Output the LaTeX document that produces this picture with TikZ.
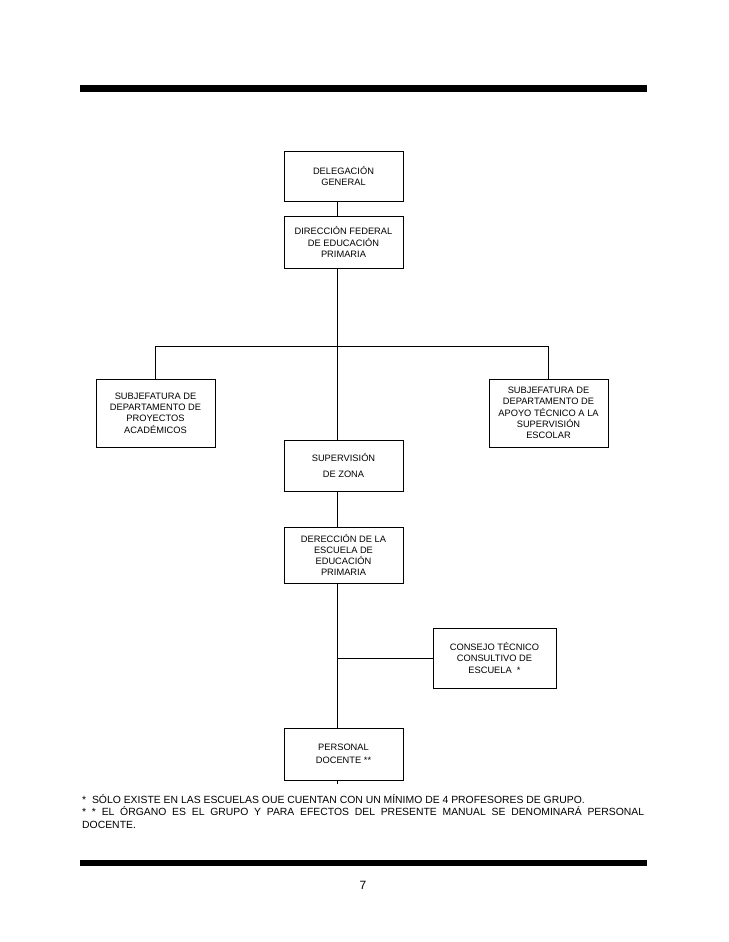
\documentclass[tikz,border=0pt]{standalone}
\usepackage{fontspec}
\setmainfont{Liberation Sans}
\begin{document}
\begin{tikzpicture}[x=1pt,y=-1pt,
  box/.style={draw=black,line width=0.9pt,align=center,inner sep=0pt,font=\fontsize{9.3}{11.3}\selectfont},
  conn/.style={draw=black,line width=0.9pt},
  bar/.style={fill=black}]
\useasboundingbox (0,0) rectangle (728,942);
% bars
\fill[bar] (80,85) rectangle (647,92);
\fill[bar] (80,860) rectangle (647,866);
% boxes
\node[box,minimum width=119pt,minimum height=50pt] (dg) at (343.5,176) {DELEGACIÓN\\GENERAL};
\node[box,minimum width=119pt,minimum height=52pt] (df) at (343.5,242) {DIRECCIÓN FEDERAL\\DE EDUCACIÓN\\PRIMARIA};
\node[box,minimum width=119pt,minimum height=68pt] (sl) at (155.5,413) {SUBJEFATURA DE\\DEPARTAMENTO DE\\PROYECTOS\\ACADÉMICOS};
\node[box,minimum width=119pt,minimum height=68pt] (sr) at (548.5,413) {SUBJEFATURA DE\\DEPARTAMENTO DE\\APOYO TÉCNICO A LA\\SUPERVISIÓN\\ESCOLAR};
\node[box,minimum width=119pt,minimum height=51pt] (sz) at (343.5,465.5) {SUPERVISIÓN\\[4pt]DE ZONA};
\node[box,minimum width=119pt,minimum height=56pt] (de) at (343.5,555) {DERECCIÓN DE LA\\ESCUELA DE\\EDUCACIÓN\\PRIMARIA};
\node[box,minimum width=123pt,minimum height=60pt] (ct) at (494.5,658) {CONSEJO TÉCNICO\\CONSULTIVO DE\\ESCUELA \ *};
\node[box,minimum width=119pt,minimum height=52pt] (pd) at (343.5,754) {PERSONAL\\[2pt]DOCENTE **};
% connectors
\coordinate (ax) at (337,0);
\coordinate (hl) at (155,346);
\coordinate (hr) at (548,346);
\coordinate (tick) at (337,784);
\draw[conn] (dg.south -| ax) -- (df.north -| ax);
\draw[conn] (df.south -| ax) -- (sz.north -| ax);
\draw[conn] (hl) -- (hr);
\draw[conn] (hl) -- (sl.north -| hl);
\draw[conn] (hr) -- (sr.north -| hr);
\draw[conn] (sz.south -| ax) -- (de.north -| ax);
\draw[conn] (de.south -| ax) -- (pd.north -| ax);
\draw[conn] (ct.west -| ax) -- (ct.west);
\draw[conn] (pd.south -| ax) -- (tick);
% footnotes
\node[anchor=north west,inner sep=0pt,text width=562pt,align=justify,font=\fontsize{10.4}{12.5}\selectfont] (fn) at (82,794) {%
*\ \ SÓLO EXISTE EN LAS ESCUELAS OUE CUENTAN CON UN MÍNIMO DE 4 PROFESORES DE GRUPO.\par
* * EL ÓRGANO ES EL GRUPO Y PARA EFECTOS DEL PRESENTE MANUAL SE DENOMINARÁ PERSONAL\linebreak DOCENTE.};
\node[inner sep=0pt,font=\fontsize{12}{14}\selectfont] (pg) at (363,885) {7};
\end{tikzpicture}
\end{document}
